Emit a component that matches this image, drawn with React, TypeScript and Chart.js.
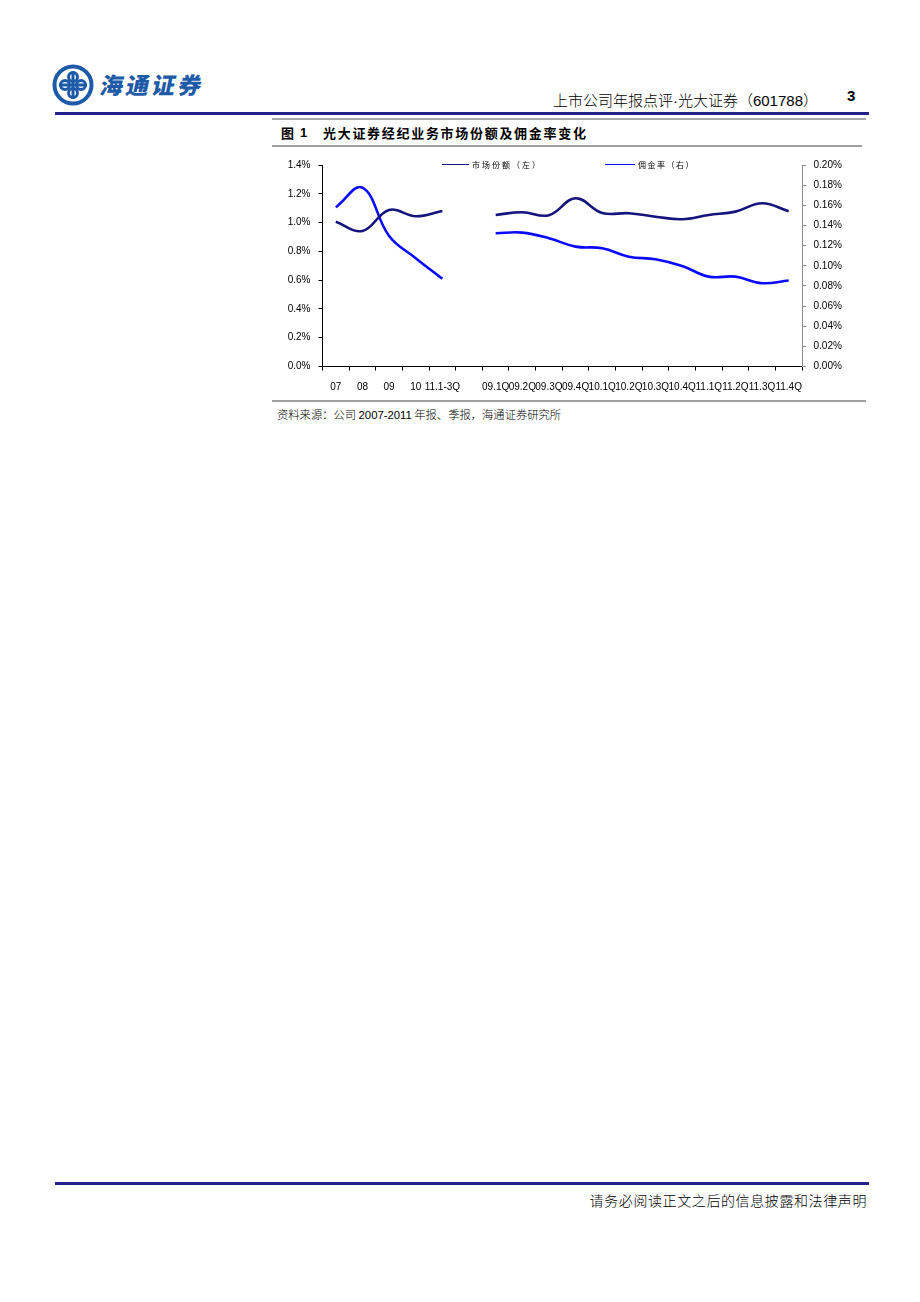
import React, { useEffect, useRef } from 'react';
import { Chart, registerables } from 'chart.js';

Chart.register(...registerables);

const categories = ['07', '08', '09', '10', '11.1-3Q', '', '09.1Q', '09.2Q', '09.3Q', '09.4Q', '10.1Q', '10.2Q', '10.3Q', '10.4Q', '11.1Q', '11.2Q', '11.3Q', '11.4Q'];
const marketShare = [1.006, 0.942, 1.088, 1.044, 1.081, null, 1.053, 1.072, 1.051, 1.169, 1.067, 1.065, 1.041, 1.023, 1.053, 1.076, 1.134, 1.079];
const commissionRate = [0.158, 0.1775, 0.1296, 0.1075, 0.087, null, 0.1323, 0.1329, 0.1273, 0.119, 0.1174, 0.109, 0.1065, 0.0998, 0.0892, 0.0892, 0.0827, 0.0853];
const seriesNames = ['市场份额（左）', '佣金率（右）'];
const leftAxis = { min: 0, max: 1.4, step: 0.2, decimals: 1 };
const rightAxis = { min: 0, max: 0.2, step: 0.02, decimals: 2 };

const NAVY = '#14147c';
const BLUE = '#0a0aff';
const LATIN = '"Liberation Sans", Arial, sans-serif';
const tickFont = { family: LATIN, size: 10 };
const CJK = '"Noto Sans CJK SC", sans-serif';

function ChartBox() {
  const ref = useRef<HTMLCanvasElement | null>(null);
  useEffect(() => {
    if (!ref.current) return;
    const chart = new Chart(ref.current, {
      type: 'line',
      data: {
        labels: categories,
        datasets: [
          {
            label: seriesNames[0],
            data: marketShare,
            borderColor: NAVY,
            backgroundColor: NAVY,
            yAxisID: 'y',
            spanGaps: false,
          },
          {
            label: seriesNames[1],
            data: commissionRate,
            borderColor: BLUE,
            backgroundColor: BLUE,
            yAxisID: 'y1',
            spanGaps: false,
          },
        ],
      },
      options: {
        animation: false,
        responsive: false,
        maintainAspectRatio: false,
        layout: { padding: { top: 15, left: 0, right: 0, bottom: 0 } },
        plugins: { legend: { display: false }, tooltip: { enabled: false } },
        elements: {
          point: { radius: 0, hoverRadius: 0 },
          line: { tension: 0.4, borderWidth: 2.6, capBezierPoints: true },
        },
        scales: {
          x: {
            type: 'category',
            offset: true,
            grid: { display: true, drawOnChartArea: false, drawTicks: true, tickLength: 4, offset: true, color: '#000' },
            border: { display: true, color: '#000', width: 1 },
            ticks: { autoSkip: false, maxRotation: 0, minRotation: 0, padding: 11, color: '#000', font: tickFont },
            afterFit: (s: any) => { s.height = 33.5; },
          },
          y: {
            position: 'left',
            min: leftAxis.min,
            max: leftAxis.max,
            ticks: {
              stepSize: leftAxis.step,
              padding: 8,
              color: '#000',
              font: tickFont,
              callback: (v: any) => Number(v).toFixed(leftAxis.decimals) + '%',
            },
            grid: { display: true, drawOnChartArea: false, drawTicks: true, tickLength: 4, color: '#000' },
            border: { display: true, color: '#000', width: 1 },
            afterFit: (s: any) => { s.width = 50.5; },
          },
          y1: {
            position: 'right',
            min: rightAxis.min,
            max: rightAxis.max,
            ticks: {
              stepSize: rightAxis.step,
              padding: 7.5,
              color: '#000',
              font: tickFont,
              callback: (v: any) => Number(v).toFixed(rightAxis.decimals) + '%',
            },
            grid: { display: true, drawOnChartArea: false, drawTicks: true, tickLength: 4, color: '#8a8a8a' },
            border: { display: true, color: '#8a8a8a', width: 1 },
            afterFit: (s: any) => { s.width = 60; },
          },
        },
      },
    } as any);
    return () => chart.destroy();
  }, []);
  return <canvas ref={ref} width={590} height={250} style={{ position: 'absolute', left: 272, top: 150, width: 590, height: 250 }} />;
}

function Logo() {
  return (
    <svg width={44} height={44} viewBox="0 0 44 44" style={{ position: 'absolute', left: 51, top: 63 }}>
      <circle cx={22} cy={22} r={18.5} fill="none" stroke="#1d5aa8" strokeWidth={4} />
      <g fill="none" stroke="#1d5aa8" strokeWidth={3}>
        <circle cx={22} cy={14} r={4.5} />
        <circle cx={22} cy={30} r={4.5} />
        <circle cx={14} cy={22} r={4.5} />
        <circle cx={30} cy={22} r={4.5} />
        <line x1={22} y1={8} x2={22} y2={36} />
        <line x1={8} y1={22} x2={36} y2={22} />
      </g>
    </svg>
  );
}

export default function App() {
  const abs = (o: React.CSSProperties): React.CSSProperties => ({ position: 'absolute', whiteSpace: 'nowrap', margin: 0, ...o });
  return (
    <div style={{ position: 'absolute', left: 0, top: 0, width: 920, height: 1302, background: '#fff' }}>
      <Logo />
      <div style={abs({ left: 101, top: 70, fontFamily: CJK, fontSize: 23, fontWeight: 900, color: '#1d5aa8', letterSpacing: 3, lineHeight: '28px', transform: 'skewX(-12deg)' })}>海通证券</div>
      <div style={abs({ left: 420, width: 398, top: 91, textAlign: 'right', fontFamily: CJK, fontSize: 15, fontWeight: 300, color: '#000', lineHeight: '18px' })}>
        上市公司年报点评<span style={{ fontFamily: LATIN }}>·</span>光大证券（<span style={{ fontFamily: LATIN }}>601788</span>）
      </div>
      <div style={abs({ left: 847, top: 88, fontFamily: LATIN, fontSize: 15, fontWeight: 700, color: '#000', lineHeight: '16px' })}>3</div>
      <div style={abs({ left: 55, top: 112, width: 814, height: 3, background: '#22228a' })} />
      <div style={abs({ left: 272, top: 117.5, width: 594, height: 2, background: '#a8a8a8' })} />

      <div style={abs({ left: 281, top: 125, fontFamily: CJK, fontSize: 13, fontWeight: 700, color: '#000', lineHeight: '16px' })}>图</div>
      <div style={abs({ left: 300, top: 125, fontFamily: LATIN, fontSize: 13, fontWeight: 700, color: '#000', lineHeight: '16px' })}>1</div>
      <div style={abs({ left: 323, top: 125, fontFamily: CJK, fontSize: 13, fontWeight: 700, color: '#000', letterSpacing: 1.7, lineHeight: '16px' })}>光大证券经纪业务市场份额及佣金率变化</div>
      <div style={abs({ left: 272, top: 145, width: 590, height: 1.5, background: '#a0a0a0' })} />

      <ChartBox />

      <div style={abs({ left: 442, top: 163.5, width: 27, height: 1.6, background: NAVY })} />
      <div style={abs({ left: 472, top: 158.5, fontFamily: CJK, fontSize: 8, color: '#000', letterSpacing: 2, lineHeight: '11px' })}>{seriesNames[0]}</div>
      <div style={abs({ left: 605, top: 163.5, width: 30, height: 1.6, background: BLUE })} />
      <div style={abs({ left: 638, top: 158.5, fontFamily: CJK, fontSize: 8, color: '#000', letterSpacing: 1.5, lineHeight: '11px' })}>{seriesNames[1]}</div>

      <div style={abs({ left: 272, top: 399.5, width: 594, height: 2, background: '#a0a0a0' })} />
      <div style={abs({ left: 277, top: 407, fontFamily: CJK, fontSize: 11.3, fontWeight: 300, color: '#000', lineHeight: '14px' })}>
        资料来源：公司 <span style={{ fontFamily: LATIN }}>2007-2011</span> 年报、季报，海通证券研究所
      </div>

      <div style={abs({ left: 55, top: 1182, width: 814, height: 3, background: '#22228a' })} />
      <div style={abs({ left: 500, width: 367, top: 1191, textAlign: 'right', fontFamily: CJK, fontSize: 14, fontWeight: 300, color: '#000', letterSpacing: 0.6, lineHeight: '18px' })}>请务必阅读正文之后的信息披露和法律声明</div>
    </div>
  );
}
